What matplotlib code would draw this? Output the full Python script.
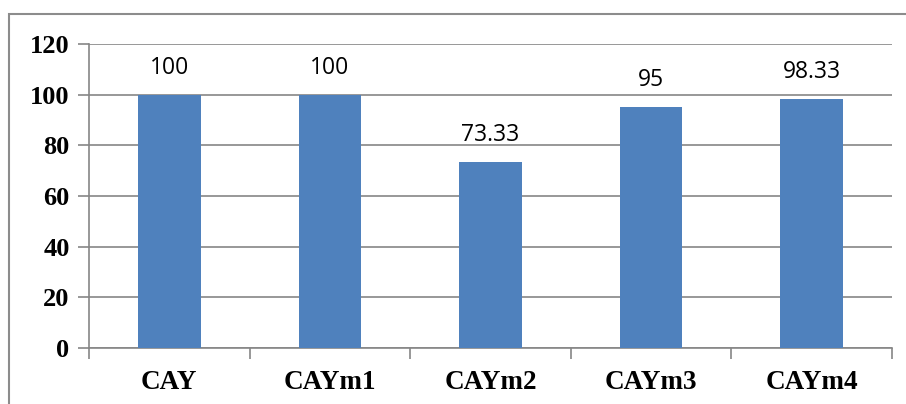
import matplotlib.pyplot as plt
from matplotlib.patches import Rectangle

categories = ["CAY", "CAYm1", "CAYm2", "CAYm3", "CAYm4"]
values = [100, 100, 73.33, 95, 98.33]
value_labels = ["100", "100", "73.33", "95", "98.33"]
yticks = [0, 20, 40, 60, 80, 100, 120]

W, H = 906, 404
fig = plt.figure(figsize=(W / 100, H / 100), dpi=100)

# outer chart frame (runs off the right and bottom edges)
fig.patches.append(Rectangle((9 / W, -0.1), 1.2, 1 - 14 / H + 0.1,
                             transform=fig.transFigure, fill=False,
                             edgecolor="#8c8c8c", linewidth=1.5))

ax = fig.add_axes([89 / W, (H - 348) / H, (892 - 89) / W, (348 - 44) / H])

x = range(len(categories))
bars = ax.bar(x, values, width=0.39, color="#4f81bd", zorder=3)

for b, lab in zip(bars, value_labels):
    ax.annotate(lab, (b.get_x() + b.get_width() / 2, b.get_height()),
                xytext=(0, 27), textcoords="offset pixels",
                ha="center", va="center", fontsize=16.5,
                family="Open Sans", color="black")

ax.set_xlim(-0.5, len(categories) - 0.5)
ax.set_ylim(0, 120)
ax.set_yticks(yticks)
ax.set_yticklabels([str(t) for t in yticks], fontsize=19,
                   family="Liberation Serif", fontweight="bold")
ax.set_xticks(list(x))
ax.set_xticklabels(categories, fontsize=19.5, family="Liberation Serif",
                   fontweight="bold")
ax.tick_params(axis="x", length=0, pad=16)
ax.tick_params(axis="y", length=8, color="#868686", width=1.2, pad=6)

# category boundary ticks below the x axis
ax.set_xticks([i - 0.5 for i in range(len(categories) + 1)], minor=True)
ax.tick_params(axis="x", which="minor", length=8, color="#868686", width=1.2)

ax.grid(axis="y", color="#868686", linewidth=1.2, zorder=0)
for s in ["top", "right"]:
    ax.spines[s].set_visible(False)
for s in ["left", "bottom"]:
    ax.spines[s].set_color("#868686")
    ax.spines[s].set_linewidth(1.2)

fig.savefig("out.png", dpi=100)
